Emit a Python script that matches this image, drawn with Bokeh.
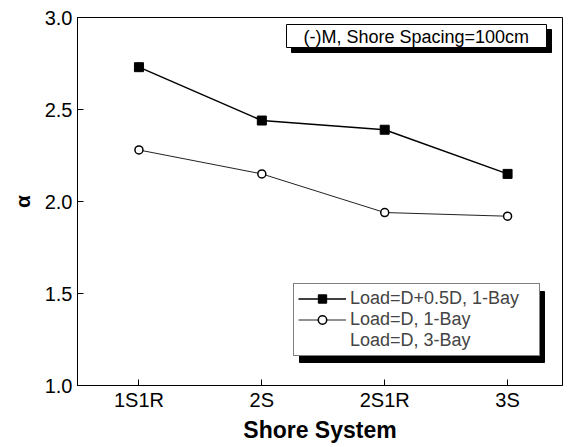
from bokeh.plotting import figure
from bokeh.models import FixedTicker, Range1d, Legend, LegendItem, NumeralTickFormatter
from bokeh.core.properties import value
from bokeh.embed import file_html
from bokeh.resources import INLINE

categories = ["1S1R", "2S", "2S1R", "3S"]
s1_label = "Load=D+0.5D, 1-Bay"
s1_vals = [2.73, 2.44, 2.39, 2.15]
s2_label = "Load=D, 1-Bay"
s2_vals = [2.28, 2.15, 1.94, 1.92]
s3_label = "Load=D, 3-Bay"
s3_vals = []
y_ticks = [1.0, 1.5, 2.0, 2.5, 3.0]
title_text = "(-)M, Shore Spacing=100cm"

FONT = "Liberation Sans"
W, H = 566, 445
ML, MR, MT, MB = 77, 4, 17, 60
X0, X1 = -0.5, 3.447
Y0, Y1 = 1.0, 3.0
FW, FH = W - ML - MR, H - MT - MB

# helpers converting page pixel positions (decorations only) to data coords
def px2x(px):
    return X0 + (px - ML) / FW * (X1 - X0)

def px2y(py):
    return Y1 - (py - MT) / FH * (Y1 - Y0)

xs = list(range(len(categories)))

p = figure(width=W, height=H, output_backend="svg", toolbar_location=None,
           x_range=Range1d(X0, X1), y_range=Range1d(Y0, Y1),
           min_border_left=ML, min_border_right=MR, min_border_top=MT, min_border_bottom=MB)
p.outline_line_color = "black"
p.outline_line_width = 1
p.xgrid.visible = False
p.ygrid.visible = False
p.background_fill_color = "white"

p.xaxis.ticker = FixedTicker(ticks=xs)
p.xaxis.major_label_overrides = {i: c for i, c in enumerate(categories)}
p.yaxis.ticker = FixedTicker(ticks=y_ticks)
p.yaxis.formatter = NumeralTickFormatter(format="0.0")
for ax in (p.xaxis[0], p.yaxis[0]):
    ax.major_tick_in = 6
    ax.major_tick_out = 0
    ax.minor_tick_in = 0
    ax.minor_tick_out = 0
    ax.axis_line_color = "black"
    ax.major_tick_line_color = "black"
    ax.major_label_text_font = FONT
    ax.major_label_text_font_size = "20px"
    ax.major_label_text_color = "black"
    ax.axis_label_text_font = FONT
    ax.axis_label_text_font_style = "bold"
    ax.axis_label_text_color = "black"
p.xaxis.major_label_standoff = 3
p.yaxis.major_label_standoff = 5
p.xaxis.axis_label = "Shore System"
p.xaxis.axis_label_text_font_size = "23px"
p.xaxis.axis_label_standoff = 3
p.yaxis.axis_label = "α"
p.yaxis.axis_label_text_font_size = "21px"
p.yaxis.axis_label_standoff = 8

# title box with shadow
tx0, tx1, ty0, ty1 = 286, 546, 24, 47
p.quad(left=px2x(tx0 + 5), right=px2x(tx1 + 5), top=px2y(ty0 + 5), bottom=px2y(ty1 + 5),
       fill_color="black", line_color="black")
p.quad(left=px2x(tx0), right=px2x(tx1), top=px2y(ty0), bottom=px2y(ty1),
       fill_color="white", line_color="black", line_width=1)
p.text(x=[px2x(303)], y=[px2y(36)], text=[title_text], text_font=value(FONT),
       text_font_size="18px", text_baseline="middle", text_align="left", text_color="black")

# legend shadow
lx0, lx1, ly0, ly1 = 293, 538, 285, 356
p.quad(left=px2x(lx0 + 6), right=px2x(lx1 + 6), top=px2y(ly0 + 6), bottom=px2y(ly1 + 6),
       fill_color="black", line_color="black")

# data series
r1l = p.line(xs, s1_vals, line_color="black", line_width=1.5)
r1m = p.scatter(xs, s1_vals, marker="square", size=9, fill_color="black", line_color="black")
r2l = p.line(xs, s2_vals, line_color="#222222", line_width=1)
r2m = p.scatter(xs, s2_vals, marker="circle", size=8, fill_color="white", line_color="black", line_width=1.5)
r3 = p.line(x=list(range(len(s3_vals))), y=s3_vals, line_alpha=0)

legend = Legend(items=[LegendItem(label=s1_label, renderers=[r1l, r1m]),
                       LegendItem(label=s2_label, renderers=[r2l, r2m]),
                       LegendItem(label=s3_label, renderers=[r3])],
                location=(lx0 - ML, (MT + FH) - ly1),
                border_line_color="black", border_line_width=1,
                background_fill_color="white", background_fill_alpha=1,
                padding=4, spacing=0, margin=0,
                label_text_font=FONT, label_text_font_size="18px",
                label_height=21, glyph_height=21, glyph_width=48,
                label_standoff=4, label_width=185)
p.add_layout(legend)

open("out.html", "w").write(file_html(p, INLINE))
